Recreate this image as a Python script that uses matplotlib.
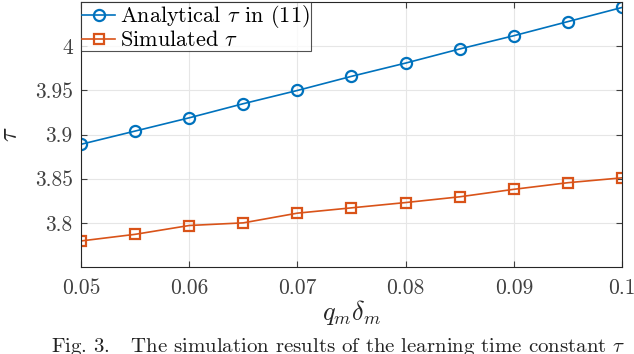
import matplotlib
matplotlib.use("Agg")
import matplotlib.pyplot as plt

# data
q_delta = [0.05, 0.055, 0.06, 0.065, 0.07, 0.075, 0.08, 0.085, 0.09, 0.095, 0.1]
tau_analytical = [3.889, 3.904, 3.919, 3.935, 3.950, 3.966, 3.981, 3.997, 4.012, 4.028, 4.044]
tau_simulated = [3.7795, 3.787, 3.797, 3.800, 3.811, 3.817, 3.823, 3.8295, 3.838, 3.8455, 3.851]

x_ticks = [0.05, 0.06, 0.07, 0.08, 0.09, 0.1]
x_ticklabels = ["0.05", "0.06", "0.07", "0.08", "0.09", "0.1"]
y_ticks = [3.8, 3.85, 3.9, 3.95, 4.0]
y_ticklabels = ["3.8", "3.85", "3.9", "3.95", "4"]

plt.rcParams["font.family"] = ["cmr10", "DejaVu Serif"]
plt.rcParams["mathtext.fontset"] = "cm"
plt.rcParams["axes.unicode_minus"] = False

blue = "#0072BD"
orange = "#D95319"
dark = "#262626"

fig = plt.figure(figsize=(6.34, 3.54), dpi=100)
ax = fig.add_axes([0.1278, 0.2458, 0.8532, 0.748])

ax.plot(q_delta, tau_analytical, "-o", color=blue, lw=1.2, ms=8,
        mfc="none", mew=1.6, label=r"Analytical $\tau$ in (11)")
ax.plot(q_delta, tau_simulated, "-s", color=orange, lw=1.2, ms=6.5,
        mfc="none", mew=1.6, label=r"Simulated $\tau$")

ax.set_xlim(0.05, 0.1)
ax.set_ylim(3.75, 4.05)
ax.set_xticks(x_ticks)
ax.set_xticklabels(x_ticklabels)
ax.set_yticks(y_ticks)
ax.set_yticklabels(y_ticklabels)
ax.tick_params(direction="in", length=4, colors="#404040", labelsize=15.5,
               top=True, right=True)
ax.tick_params(axis="x", pad=8)
ax.tick_params(axis="y", pad=6)
for s in ax.spines.values():
    s.set_color(dark)
    s.set_linewidth(0.8)
ax.grid(True, color="#e6e6e6", lw=0.8)
ax.set_axisbelow(True)

ax.set_xlabel(r"$q_m\delta_m$", fontsize=19, color=dark, labelpad=0)
ax.set_ylabel(r"$\tau$", fontsize=19, color=dark, labelpad=9, rotation=90)

leg = ax.legend(loc="upper left", fontsize=16, frameon=True, fancybox=False,
                borderpad=0.05, handlelength=1.5, handletextpad=0.2,
                labelspacing=0.0, borderaxespad=0.0)
leg.get_frame().set_edgecolor(dark)
leg.get_frame().set_linewidth(0.8)

fig.text(0.08, -0.012, r"Fig. 3.   The simulation results of the learning time constant $\tau$",
         fontsize=15, color="#222222", va="bottom", ha="left")

fig.savefig("out.png", dpi=100)
